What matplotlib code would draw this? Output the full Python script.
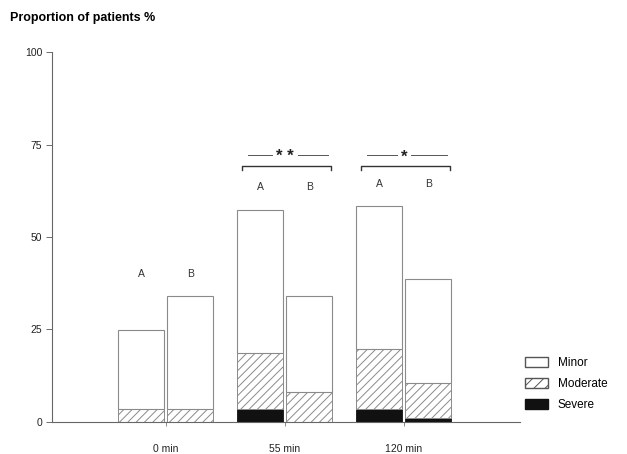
import numpy as np
import matplotlib.pyplot as plt
from matplotlib.patches import Patch

plt.rcParams['font.family'] = ['Liberation Sans', 'DejaVu Sans']
plt.rcParams['hatch.color'] = '#9a9a9a'
plt.rcParams['hatch.linewidth'] = 0.7

times = ['0 min', '55 min', '120 min']
# group A / group B, stacked: severe, moderate, minor (cumulative tops)
severe_a = [0.0, 3.4, 3.4]
severe_b = [0.0, 0.0, 0.9]
moderate_a = [3.5, 18.7, 19.7]
moderate_b = [3.5, 8.1, 10.4]
total_a = [24.8, 57.4, 58.3]
total_b = [34.1, 33.9, 38.6]
signif = ['', '* *', '*']

fig = plt.figure(figsize=(6.27, 4.54), dpi=100)
ax = fig.add_axes([0.083, 0.071, 0.746, 0.814])

x = np.arange(len(times))
w = 0.387
off = 0.206
edge = '#8a8a8a'

for pos, sev, mod, tot in [(x - off, severe_a, moderate_a, total_a),
                           (x + off, severe_b, moderate_b, total_b)]:
    sev = np.array(sev)
    mod = np.array(mod)
    tot = np.array(tot)
    ax.bar(pos, sev, w, color='#111111', edgecolor='#111111', linewidth=0.6)
    ax.bar(pos, mod - sev, w, bottom=sev, color='white', hatch='////',
           edgecolor=edge, linewidth=0.7)
    ax.bar(pos, tot - mod, w, bottom=mod, color='white', edgecolor=edge, linewidth=0.8)

# A / B labels above each pair
for i in range(len(times)):
    top = max(total_a[i], total_b[i])
    ax.text(x[i] - off, top + 6, 'A', ha='center', va='center', fontsize=7.5, color='#333333')
    ax.text(x[i] + off, top + 6, 'B', ha='center', va='center', fontsize=7.5, color='#333333')

# significance brackets
for i, s in enumerate(signif):
    if not s:
        continue
    yb = 69.3
    l, r = x[i] - off - w / 2 + 0.04, x[i] + off + w / 2 - 0.01
    ax.plot([l, l, r, r], [yb - 1.2, yb, yb, yb - 1.2], color='#333333', lw=1.0)
    ys = yb + 3.0
    ax.text(x[i], ys - 0.6, s, ha='center', va='center', fontsize=12, fontweight='bold',
            color='#222222')
    half = 0.11 if len(s) > 1 else 0.06
    ax.plot([l + 0.05, x[i] - half], [ys, ys], color='#555555', lw=0.7)
    ax.plot([x[i] + half, r - 0.03], [ys, ys], color='#555555', lw=0.7)

ax.set_xlim(-0.958, 2.975)
ax.set_ylim(0, 100)
ax.set_yticks([0, 25, 50, 75, 100])
ax.set_xticks(x)
ax.set_xticklabels(times)
ax.tick_params(axis='y', length=4, width=0.6, colors='#555555', labelsize=7.5, labelcolor='#222222', pad=3)
ax.tick_params(axis='x', length=3, width=0.6, colors='#777777', labelsize=7.5, labelcolor='#222222', pad=13)
for side in ['top', 'right']:
    ax.spines[side].set_visible(False)
ax.spines['left'].set_color('#666666')
ax.spines['bottom'].set_color('#666666')
ax.spines['left'].set_linewidth(0.8)
ax.spines['bottom'].set_linewidth(0.8)

fig.text(0.016, 0.96, 'Proportion of patients %', fontsize=9, fontweight='bold', va='center')

handles = [Patch(facecolor='white', edgecolor='#555555', label='Minor'),
           Patch(facecolor='white', edgecolor='#555555', hatch='///', label='Moderate'),
           Patch(facecolor='#111111', edgecolor='#111111', label='Severe')]
fig.legend(handles=handles, loc='center left', bbox_to_anchor=(0.82, 0.154), frameon=False,
           fontsize=8.5, handlelength=2.0, handleheight=0.9, labelspacing=0.75)

fig.savefig('out.png', dpi=100)
